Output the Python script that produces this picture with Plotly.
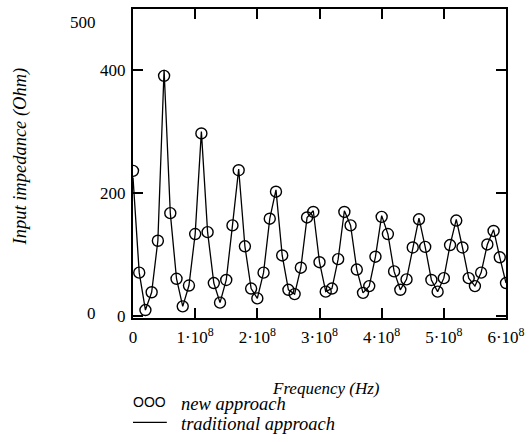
import plotly.graph_objects as go

# Frequency samples (Hz)
freq = [0, 1e7, 2e7, 3e7, 4e7, 5e7, 6e7, 7e7, 8e7, 9e7,
        1.0e8, 1.1e8, 1.2e8, 1.3e8, 1.4e8, 1.5e8, 1.6e8, 1.7e8, 1.8e8, 1.9e8,
        2.0e8, 2.1e8, 2.2e8, 2.3e8, 2.4e8, 2.5e8, 2.6e8, 2.7e8, 2.8e8, 2.9e8,
        3.0e8, 3.1e8, 3.2e8, 3.3e8, 3.4e8, 3.5e8, 3.6e8, 3.7e8, 3.8e8, 3.9e8,
        4.0e8, 4.1e8, 4.2e8, 4.3e8, 4.4e8, 4.5e8, 4.6e8, 4.7e8, 4.8e8, 4.9e8,
        5.0e8, 5.1e8, 5.2e8, 5.3e8, 5.4e8, 5.5e8, 5.6e8, 5.7e8, 5.8e8, 5.9e8,
        6.0e8]

# Input impedance (Ohm), new approach (circles)
new_approach = [236, 70, 9, 38, 122, 391, 167, 60, 15, 49,
                133, 297, 136, 53, 21, 58, 147, 237, 113, 44,
                28, 70, 158, 202, 98, 42, 35, 78, 160, 169,
                87, 39, 44, 92, 169, 147, 75, 37, 48, 96,
                161, 133, 72, 42, 59, 111, 157, 112, 58, 39,
                61, 115, 155, 111, 61, 48, 70, 116, 138, 95,
                53]

# Input impedance (Ohm), traditional approach (line)
traditional_approach = [225, 70, 9, 38, 122, 401, 167, 60, 15, 49,
                        133, 300, 136, 53, 21, 58, 147, 239, 113, 44,
                        28, 70, 158, 205, 98, 42, 35, 78, 160, 171,
                        87, 39, 44, 92, 171, 147, 75, 37, 48, 96,
                        163, 133, 72, 42, 59, 111, 159, 112, 58, 39,
                        61, 115, 157, 111, 61, 48, 70, 116, 140, 95,
                        53]

x_tickvals = [0, 1e8, 2e8, 3e8, 4e8, 5e8, 6e8]
x_ticktext = ["0", "1·10<sup>8</sup>", "2·10<sup>8</sup>", "3·10<sup>8</sup>",
              "4·10<sup>8</sup>", "5·10<sup>8</sup>", "6·10<sup>8</sup>"]
y_tickvals = [0, 200, 400]
y_ticktext = ["0", "200", "400"]

SERIF = "Liberation Serif"
FN = 17      # numbers
FT = 18.5    # italic titles / legend

fig = go.Figure()
fig.add_trace(go.Scatter(
    x=freq, y=traditional_approach, mode="lines",
    line=dict(color="black", width=1.3),
    name="traditional approach", showlegend=False))
fig.add_trace(go.Scatter(
    x=freq, y=new_approach, mode="markers",
    marker=dict(symbol="circle-open", size=11, color="black",
                line=dict(color="black", width=1.4)),
    name="new approach", showlegend=False))

fig.update_layout(
    width=532, height=442,
    margin=dict(l=133, r=24, t=7, b=124),
    paper_bgcolor="white", plot_bgcolor="white",
    font=dict(family=SERIF, size=FN, color="black"),
    showlegend=False,
)
fig.update_xaxes(
    range=[0, 6e8], tickvals=x_tickvals, ticktext=x_ticktext,
    ticks="inside", ticklen=10, tickwidth=1.5, tickcolor="black",
    showline=True, linecolor="black", linewidth=2, mirror="ticks",
    showgrid=False, zeroline=False, ticklabelstandoff=3,
    tickfont=dict(family=SERIF, size=FN, color="black"),
)
fig.update_yaxes(
    range=[-4, 500], tickvals=y_tickvals, ticktext=y_ticktext,
    ticks="inside", ticklen=10, tickwidth=1.5, tickcolor="black",
    showline=True, linecolor="black", linewidth=2, mirror="ticks",
    showgrid=False, zeroline=False, ticklabelstandoff=2,
    tickfont=dict(family=SERIF, size=FN, color="black"),
)

ann = []
# axis limit labels (Mathcad style)
ann.append(dict(text="500", xref="paper", yref="paper", x=0, y=(318 - 21) / 311,
                xanchor="right", yanchor="middle", xshift=-35, showarrow=False,
                font=dict(family=SERIF, size=FN, color="black")))
ann.append(dict(text="0", xref="paper", yref="paper", x=0, y=(318 - 313) / 311,
                xanchor="right", yanchor="middle", xshift=-35, showarrow=False,
                font=dict(family=SERIF, size=FN, color="black")))
# y title
ann.append(dict(text="<i>Input impedance (Ohm)</i>", xref="paper", yref="paper",
                x=0, y=0.5, xanchor="center", yanchor="middle", xshift=-113,
                yshift=7, textangle=-90, showarrow=False,
                font=dict(family=SERIF, size=FT, color="black")))
# x title
ann.append(dict(text="<i>Frequency (Hz)</i>", xref="paper", yref="paper",
                x=0.5, y=(318 - 389) / 311, xanchor="center", yanchor="middle",
                xshift=6, showarrow=False,
                font=dict(family=SERIF, size=17, color="black")))
# legend
ann.append(dict(text="OOO", xref="paper", yref="paper", x=0, y=(318 - 403) / 311,
                xanchor="left", yanchor="middle", xshift=-2, showarrow=False,
                font=dict(family="Liberation Sans", size=14, color="black")))
ann.append(dict(text="<i>new approach</i>", xref="paper", yref="paper", x=0,
                y=(318 - 405) / 311, xanchor="left", yanchor="middle", xshift=46,
                showarrow=False, font=dict(family=SERIF, size=FT, color="black")))
ann.append(dict(text="<i>traditional approach</i>", xref="paper", yref="paper", x=0,
                y=(318 - 425) / 311, xanchor="left", yanchor="middle", xshift=46,
                showarrow=False, font=dict(family=SERIF, size=FT, color="black")))
fig.update_layout(annotations=ann)
fig.add_shape(type="line", xref="paper", yref="paper",
              x0=0, x1=34 / 375, y0=(318 - 423) / 311, y1=(318 - 423) / 311,
              line=dict(color="black", width=1.3))

fig.write_html("out.html", config={"displayModeBar": False},
               post_script="document.body.style.margin='0';document.body.style.overflow='hidden';")
